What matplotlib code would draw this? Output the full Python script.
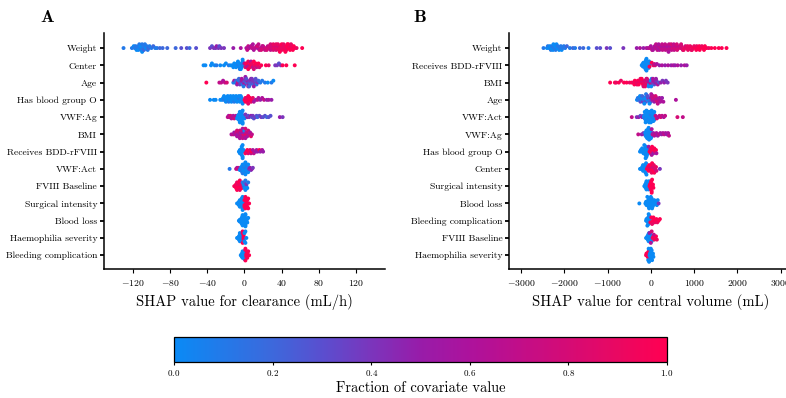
"""
SHAP beeswarm summaries for clearance and central volume.
"""

import numpy as np
import matplotlib

matplotlib.use("Agg")
import matplotlib.pyplot as plt
import matplotlib as mpl
from matplotlib.colors import LinearSegmentedColormap

plt.rcParams["font.family"] = "serif"
plt.rcParams["font.serif"] = ["cmr10"]
plt.rcParams["mathtext.fontset"] = "cm"
plt.rcParams["axes.formatter.use_mathtext"] = True
plt.rcParams["axes.unicode_minus"] = True

# ---------------- panel A: clearance (mL/h), colour value in tenths ----------------
A_FEATURES = ["Weight", "Center", "Age", "Has blood group O", "VWF:Ag", "BMI",
              "Receives BDD-rFVIII", "VWF:Act", "FVIII Baseline", "Surgical intensity",
              "Blood loss", "Haemophilia severity", "Bleeding complication"]

a_weight_x = [-130, -121, -119, -118, -117, -116, -115, -114, -114, -113,
              -112, -112, -111, -110, -110, -109, -108, -108, -107, -106,
              -105, -104, -103, -102, -100, -98, -96, -94, -91, -88,
              -83, -74, -68, -62, -59, -52,
              -37, -35, -33, -31, -30, -28, -27, -25, -22, -12, -4,
              2, 4, 5, 7, 8, 8, 10, 11, 13, 14, 14, 16, 17, 19, 20, 20, 22, 23, 25, 26,
              27, 28, 29, 30, 31, 32, 33, 34, 34, 35, 36, 37, 38, 39, 40, 40, 41, 42, 43, 44,
              45, 45, 46, 47, 48, 49, 50, 51, 52, 54, 56, 62,
              3, 9, 15, 18, 24, 28, 31, 36, 38, 42, 44, 47, 50, 53]
a_weight_c = [1, 1, 0, 1, 1, 0, 1, 1, 0, 1, 1, 0, 1, 1, 0, 1, 1, 2, 1, 0,
              1, 1, 2, 1, 1, 2, 1, 1, 2, 2,
              2, 2, 3, 3, 2, 3,
              4, 3, 4, 4, 5, 4, 3, 4, 4, 5, 6,
              6, 7, 6, 6, 7, 7, 6, 7, 7, 6, 8, 7, 7, 7, 8, 7, 7, 8, 7, 8,
              8, 7, 8, 8, 8, 9, 8, 8, 9, 9, 8, 9, 9, 9, 9, 10, 9, 9, 10, 9,
              10, 9, 10, 10, 9, 10, 10, 9, 10, 10, 9, 10,
              7, 6, 7, 8, 8, 8, 9, 9, 10, 9, 10, 10, 9, 10]

a_center_x = [-44, -42, -36, -35, -32, -30, -26, -22, -20, -17, -15, -13, -11, -10, -8,
              -7, -6, -5, -4, -3, -3, -2, -1, -12, -9, -7, -5, -4, -2,
              0, 1, 2, 2, 3, 4, 4, 5, 6, 6, 7, 8, 8, 9, 10, 10, 11, 12, 13, 14, 15, 16, 18,
              23, 26, 33, 35, 37, 39, 41, 45, 54]
a_center_c = [0, 0, 0, 0, 0, 1, 0, 0, 0, 1, 0, 0, 0, 0, 0,
              1, 0, 0, 0, 1, 0, 0, 1, 0, 0, 0, 1, 0, 0,
              7, 9, 8, 10, 6, 9, 10, 7, 10, 9, 6, 10, 9, 7, 10, 8, 9, 10, 7, 9, 10, 8, 10,
              10, 9, 4, 4, 3, 4, 10, 10, 10]

a_age_x = [-41, -27, -25, -23, -21, -19,
           -12, -11, -10, -9, -8, -7, -6, -5, -4, -3, -2, -1, 0, 0, 1, 2, 3, 4, 5, 6,
           6, 7, 8, 9, 10, 11, 12, 13, 14, 15, 17, 19, 22, 25, 29, 31,
           -6, -3, -1, 1, 2, 4, 5, 8, 10, 12]
a_age_c = [10, 7, 7, 6, 7, 8,
           1, 6, 1, 2, 5, 7, 1, 4, 3, 5, 1, 4, 3, 6, 4, 2, 5, 4, 3, 4,
           2, 5, 3, 4, 2, 4, 3, 1, 4, 2, 1, 1, 1, 0, 1, 0,
           2, 6, 1, 5, 3, 6, 2, 4, 5, 3]

a_bloodo_x = [-37, -33, -31, -26, -24, -23, -22, -21, -20, -19, -18, -17, -16, -15,
              -14, -13, -12, -11, -10, -9, -8, -7, -6, -5, -4, -3, -2,
              -22, -18, -15, -12, -9, -6, -4, -2,
              0, 1, 1, 2, 2, 3, 4, 4, 5, 6, 7, 8, 9,
              10, 12, 14, 15, 17, 19, 21, 24, 26, 29]
a_bloodo_c = [0, 0, 0, 0, 0, 0, 1, 0, 0, 0, 0, 1, 0, 0,
              0, 0, 0, 1, 0, 0, 0, 0, 1, 0, 0, 0, 0,
              0, 0, 0, 0, 0, 0, 0, 0,
              10, 9, 10, 10, 9, 10, 10, 9, 10, 10, 9, 10, 9,
              6, 5, 7, 6, 5, 6, 7, 5, 6, 5]

a_vwfag_x = [-18, -17, -16, -15, -14, -13, -12, -11, -10, -9,
             -8, -7, -7, -6, -6, -6, -5, -5, -5, -5, -4, -4, -4, -4, -3, -3, -3, -3,
             -2, -2, -2, -1, -1, 0,
             1, 3, 4, 5, 7, 8, 9, 10, 12, 13, 14, 16, 18, 20, 22, 24, 26, 28, 38, 41]
a_vwfag_c = [7, 6, 7, 8, 6, 7, 6, 8, 7, 6,
             0, 0, 0, 0, 0, 0, 0, 0, 0, 0, 0, 0, 0, 0, 0, 0, 0, 0,
             0, 0, 0, 0, 0, 0,
             4, 5, 3, 4, 5, 3, 4, 3, 4, 3, 2, 3, 4, 3, 3, 2, 3, 3, 5, 4]

a_bmi_x = [-14, -12, -11, -10, -9, -8, -8, -7, -6, -6, -5, -5, -4, -4, -3, -3,
           -2, -2, -1, -1, 0, 0, 1, 1, 2, 2, 3, 4, 5, 6, 7, 8]
a_bmi_c = [6, 7, 5, 6, 7, 6, 8, 5, 7, 6, 8, 6, 7, 5, 6, 8,
           7, 6, 9, 5, 7, 0, 6, 8, 10, 7, 6, 8, 7, 6, 9, 7]

a_bdd_x = [-6, -5, -5, -4, -4, -4, -3, -3, -3, -2, -2, -2, -1, -1,
           1, 2, 3, 4, 5, 6, 7, 8, 9, 10,
           12, 13, 14, 16, 17, 19, 20]
a_bdd_c = [0, 0, 0, 0, 0, 0, 0, 0, 0, 0, 0, 0, 0, 0,
           10, 9, 10, 8, 10, 9, 7, 10, 6, 7,
           5, 6, 5, 10, 5, 6, 5]

a_vwfact_x = [-16, -9, -8, -7, -6,
              -5, -4, -4, -3, -3, -3, -2, -2, -2, -2, -1, -1, -1, -1, 0,
              0, 0, 0, 1, 1, 1, 1, 2, 2, 2, 3, 3, 3, 4, 4,
              5, 6, 7, 8, 9]
a_vwfact_c = [1, 7, 6, 8, 7,
              0, 0, 1, 0, 0, 1, 0, 0, 0, 1, 0, 0, 0, 1, 0,
              0, 0, 0, 1, 0, 0, 0, 0, 1, 0, 0, 0, 1, 0, 0,
              4, 5, 4, 5, 4]

a_fviii_x = [-11, -10, -9, -9, -8, -8, -7, -7, -6, -6, -5, -5, -4, -4, -3,
             -2, -1, -1, 0, 0, 1, 1, 2, 2, 3, 4]
a_fviii_c = [10, 9, 10, 10, 9, 10, 10, 9, 10, 10, 9, 10, 10, 9, 10,
             1, 3, 0, 0, 2, 0, 1, 0, 4, 0, 1]

a_surg_x = [-8, -7, -6, -6, -5, -5, -4, -4, -4, -3, -3, -3, -2, -2, -2, -1, -1,
            0, 0, 0, 1, 1, 1, 2, 2, 2, 3, 3, 4, 4, 5]
a_surg_c = [0, 0, 0, 0, 0, 0, 0, 0, 0, 0, 0, 0, 0, 0, 0, 0, 0,
            10, 10, 10, 10, 10, 10, 10, 10, 10, 10, 10, 10, 10, 10]

a_loss_x = [-6, -5, -5, -4, -4, -4, -3, -3, -3, -3, -2, -2, -2, -2, -2, -1, -1, -1,
            -1, -1, 0, 0, 0, 0, 0, 1, 1, 1, 1, 2, 2, 2, 3, 3, 4]
a_loss_c = [0] * len(a_loss_x)

a_sev_x = [-8, -7, -6, -6, -5, -5, -5, -4, -4, -4, -3, -3,
           -2, -2, -2, -1, -1, -1, -1, 0, 0, 1, 1, 2]
a_sev_c = [0, 0, 0, 0, 0, 0, 0, 0, 0, 0, 0, 0,
           10, 10, 10, 10, 10, 10, 10, 0, 0, 0, 0, 0]

a_bleed_x = [-4, -3, -3, -2, -2, -2, -1, -1, -1, -1, 0, 0, 0,
             1, 1, 1, 2, 2, 2, 3, 3, 4, 5]
a_bleed_c = [0, 0, 0, 0, 0, 0, 0, 0, 0, 0, 0, 0, 0,
             10, 10, 10, 10, 10, 10, 10, 10, 10, 10]

# ---------------- panel B: central volume (mL) ----------------
B_FEATURES = ["Weight", "Receives BDD-rFVIII", "BMI", "Age", "VWF:Act", "VWF:Ag",
              "Has blood group O", "Center", "Surgical intensity", "Blood loss",
              "Bleeding complication", "FVIII Baseline", "Haemophilia severity"]

b_weight_x = [-2480, -2400, -2380, -2350, -2330, -2310, -2300, -2280, -2260, -2250,
              -2230, -2210, -2200, -2180, -2160, -2150, -2120, -2100, -2080, -2060,
              -2040, -2010, -1980, -1940, -1870, -1800, -1750, -1640, -1560, -1440,
              -1250, -1170, -1020, -940, -635,
              -325, -250, -170, -100, -60, -20, 0, 30, 60, 90,
              110, 130, 150, 170, 190, 200, 230, 250, 270, 300,
              320, 340, 360, 380, 400, 420, 440, 460, 480, 500,
              520, 540, 560, 590, 610, 640, 660, 690, 710, 740,
              770, 800, 820, 850, 880, 910, 940, 970, 1000, 1030,
              1060, 1090, 1120, 1150, 1180, 1210, 1250, 1290, 1340, 1400,
              1480, 1570, 1640, 1750,
              50, 120, 180, 260, 330, 410, 470, 530, 600, 700,
              760, 860, 950, 1050, 1130, 1230]
b_weight_c = [1, 0, 1, 0, 0, 1, 0, 1, 0, 0, 1, 0, 1, 0, 0, 1, 0, 1, 1, 0,
              1, 1, 1, 2, 1, 2, 1, 2, 2, 1,
              3, 3, 4, 3, 4,
              5, 6, 5, 6, 6, 7, 6, 7, 6, 6,
              7, 6, 7, 6, 7, 6, 7, 6, 7, 7,
              6, 7, 7, 6, 7, 7, 7, 6, 7, 8,
              7, 7, 8, 7, 8, 8, 7, 8, 8, 8,
              9, 8, 9, 9, 9, 9, 9, 10, 9, 10,
              9, 10, 10, 10, 9, 10, 10, 10, 9, 10,
              10, 10, 10, 10,
              6, 7, 6, 7, 7, 6, 8, 7, 8, 8,
              9, 9, 9, 10, 10, 10]

b_bdd_x = [-210, -190, -180, -170, -160, -150, -150, -140, -130, -120, -120,
           -110, -100, -100, -90, -80, -70, -60, -50, -40, -30, -20,
           -30, 20, 60, 100, 80,
           140, 200, 260, 330, 400, 470, 520, 560, 620, 700, 780, 830]
b_bdd_c = [0, 0, 0, 0, 0, 0, 0, 0, 0, 0, 0,
           0, 0, 0, 0, 0, 0, 0, 0, 0, 0, 0,
           10, 10, 9, 8, 7,
           6, 5, 6, 5, 6, 5, 6, 5, 6, 5, 6, 5]

b_bmi_x = [-940, -830, -800, -740, -690, -620, -560, -490, -440, -400,
           -370, -330, -300, -270, -250, -220, -200, -180, -160, -140,
           -120, -100, -80, -60, -40, -20, 0, 0, 20, 40,
           60, 80, 100, 130, 160, 190, 230, 270, 310, 350, 390,
           -380, -320, -280, -240, -210, -170, -130, -90, -50, 10, 50, 120]
b_bmi_c = [10, 10, 9, 10, 9, 10, 10, 9, 10, 9,
           10, 9, 10, 8, 10, 9, 8, 10, 9, 8,
           9, 7, 8, 6, 0, 5, 0, 7, 1, 4,
           6, 3, 5, 4, 6, 3, 5, 4, 5, 4, 4,
           10, 9, 10, 9, 10, 8, 9, 8, 0, 0, 6, 5]

b_age_x = [-320, -290, -260, -240, -220, -200, -180, -160, -140, -120,
           -100, -80, -60, -40, -20, 0, 0, 20, 40, 60,
           80, 100, 130, 150, 180, 200, 230, 260, 290, 580,
           -300, -250, -200, -150, -110, -70, -30, 10, 50, 110, 160, 220]
b_age_c = [0, 1, 0, 3, 1, 0, 4, 1, 0, 3,
           1, 0, 4, 2, 1, 5, 3, 7, 6, 8,
           5, 7, 6, 8, 7, 6, 7, 5, 6, 6,
           1, 0, 2, 0, 1, 3, 0, 6, 7, 8, 7, 6]

b_vwfact_x = [-440, -325, -280, -240, -200, -170,
              -160, -150, -140, -130, -120, -110, -100, -90, -80, -70,
              -60, -50, -40, -30, -20, -10, 0, 10, 20, 30, 40, 50, 60, 70, 80, 100,
              -140, -120, -100, -80, -60, -40, -20, 0, 20, 40, 60, 80,
              110, 140, 170, 200, 230, 260, 300, 330, 615, 740]
b_vwfact_c = [7, 4, 5, 3, 5, 4,
              0, 0, 1, 0, 0, 0, 1, 0, 0, 0,
              0, 1, 0, 0, 0, 0, 1, 0, 0, 0, 1, 0, 0, 0, 1, 0,
              0, 0, 0, 0, 0, 0, 0, 0, 0, 0, 0, 0,
              7, 8, 6, 7, 8, 7, 6, 7, 8, 7]

b_vwfag_x = [-290, -210, -170, -140,
             -130, -120, -110, -100, -90, -80, -70, -60, -50, -40, -30, -20, -10, 0, 10,
             -100, -80, -60, -40, -20, 0, -50,
             20, 40, 60, 80, 100, 130, 160, 190, 220, 250, 280, 310, 340, 370, 400, 420]
b_vwfag_c = [7, 5, 4, 5,
             0, 0, 0, 0, 0, 0, 0, 0, 0, 0, 0, 0, 0, 0, 0,
             0, 0, 0, 0, 0, 0, 0,
             6, 7, 5, 6, 7, 6, 5, 7, 6, 5, 6, 7, 6, 5, 6, 7]

b_bloodo_x = [-250, -230, -210, -190, -170, -160, -150, -140, -130, -120,
              -110, -100, -90, -80, -70, -60, -200, -150, -120, -90,
              -50, -30, -10, 0, 10, 20, 30, 40, 50, 60, 80, 100, 120, 130]
b_bloodo_c = [0, 0, 0, 0, 0, 0, 0, 0, 0, 0,
              0, 0, 0, 0, 0, 0, 0, 0, 0, 0,
              5, 10, 9, 10, 10, 6, 10, 9, 10, 5, 10, 9, 10, 6]

b_center_x = [-250, -220, -200, -180, -160, -150, -140, -130, -120, -110, -100, -180,
              -90, -70, -50, -30, -10, 0, 10, 20, 30, 40, 50, 60, 70, 80, 100, 120, 130, -40,
              210]
b_center_c = [0, 0, 0, 0, 0, 0, 0, 0, 0, 0, 0, 0,
              10, 9, 10, 10, 8, 10, 10, 9, 10, 10, 8, 10, 9, 10, 8, 9, 8, 10,
              4]

b_surg_x = [-150, -130, -120, -110, -100, -90, -80, -70, -60, -50, -40, -100,
            -30, -20, -10, 0, 0, 10, 20, 30, 40, 50, 60, 20]
b_surg_c = [0, 0, 0, 0, 0, 0, 0, 0, 0, 0, 0, 0,
            10, 10, 10, 10, 10, 10, 10, 10, 10, 10, 10, 10]

b_loss_x = [-265, -125, -110, -100, -90, -80, -70, -60, -50, -40,
            -30, -20, -10, 0, 10, 20, 30, 40, 50, 60,
            80, 100, 120, 140, 160, 0, -40, 40, -80, 180]
b_loss_c = [0, 0, 0, 0, 0, 0, 0, 0, 0, 0,
            0, 0, 0, 0, 0, 0, 0, 0, 0, 0,
            0, 0, 0, 0, 0, 0, 0, 0, 0, 4]

b_bleed_x = [-110, -100, -90, -80, -70, -60, -50, -40, -30, -20, -80, -50,
             -10, 10, 30, 50, 70, 90, 110, 130, 150, 180, 210, 60]
b_bleed_c = [0, 0, 0, 0, 0, 0, 0, 0, 0, 0, 0, 0,
             10, 10, 9, 10, 10, 9, 10, 10, 9, 10, 10, 10]

b_fviii_x = [-110, -90, -80, -70, -60, -50, -40, -30, -20, -10, 0, 20,
             -30, 0, 20, 40, 60, 80, 100, 120, 140, 70]
b_fviii_c = [0, 0, 0, 0, 0, 0, 0, 0, 0, 0, 0, 0,
             5, 6, 8, 9, 10, 9, 10, 10, 9, 7]

b_sev_x = [-110, -100, -90, -80, -70, -60, -50, -40,
           -60, -50, -40, -30, -20, -10, 0, 10, 20, 30, 40, 50, 60, 0]
b_sev_c = [10, 10, 10, 10, 10, 10, 10, 10,
           0, 0, 0, 0, 0, 0, 0, 0, 0, 0, 0, 0, 0, 0]

A_DATA = [(a_weight_x, a_weight_c), (a_center_x, a_center_c), (a_age_x, a_age_c),
          (a_bloodo_x, a_bloodo_c), (a_vwfag_x, a_vwfag_c), (a_bmi_x, a_bmi_c),
          (a_bdd_x, a_bdd_c), (a_vwfact_x, a_vwfact_c), (a_fviii_x, a_fviii_c),
          (a_surg_x, a_surg_c), (a_loss_x, a_loss_c), (a_sev_x, a_sev_c),
          (a_bleed_x, a_bleed_c)]
B_DATA = [(b_weight_x, b_weight_c), (b_bdd_x, b_bdd_c), (b_bmi_x, b_bmi_c),
          (b_age_x, b_age_c), (b_vwfact_x, b_vwfact_c), (b_vwfag_x, b_vwfag_c),
          (b_bloodo_x, b_bloodo_c), (b_center_x, b_center_c), (b_surg_x, b_surg_c),
          (b_loss_x, b_loss_c), (b_bleed_x, b_bleed_c), (b_fviii_x, b_fviii_c),
          (b_sev_x, b_sev_c)]

# shap-like red/blue colormap
CMAP = LinearSegmentedColormap.from_list(
    "red_blue",
    [(0.0, "#0a8af5"), (0.2, "#3d68dc"), (0.3, "#5a4fcf"), (0.4, "#7b35bc"),
     (0.5, "#981ca9"), (0.6, "#ad129c"), (0.7, "#c10e89"), (0.8, "#d50b75"),
     (0.9, "#e90862"), (1.0, "#ff0052")],
)


def swarm(vals, binw, step=0.11, cap=0.38):
    """Stack points falling in the same bin, alternating up and down."""
    vals = np.asarray(vals, float)
    q = np.round(vals / binw)
    order = np.argsort(q, kind="stable")
    ys = np.zeros(len(vals))
    layer, last = 0, None
    for i in order:
        if q[i] != last:
            layer = 0
        ys[i] = np.ceil(layer / 2) * ((layer % 2) * 2 - 1)
        layer += 1
        last = q[i]
    ys *= step
    m = np.abs(ys).max()
    if m > cap:
        ys *= cap / m
    return ys


def draw_panel(ax, features, data, binw, xlim, ticks, xlabel):
    n = len(features)
    for i, (xs, cs) in enumerate(data):
        m = min(len(xs), len(cs))
        xs = np.asarray(xs[:m], float)
        cs = np.asarray(cs[:m], float) / 10
        ys = swarm(xs, binw)
        ax.scatter(xs, n - 1 - i + ys, c=CMAP(cs), s=8, linewidths=0, zorder=3)

    ax.set_yticks(range(n))
    ax.set_yticklabels(features[::-1], fontsize=6.9)
    ax.set_ylim(-0.8, n - 1 + 0.87)
    ax.set_xlim(*xlim)
    ax.set_xticks(ticks)
    ax.tick_params(axis="x", labelsize=7, length=3, width=0.8)
    ax.tick_params(axis="y", length=3, width=1.3, pad=2)
    ax.set_xlabel(xlabel, fontsize=10.5, labelpad=4)
    for side in ["top", "right"]:
        ax.spines[side].set_visible(False)
    for side in ["left", "bottom"]:
        ax.spines[side].set_linewidth(1.1)


fig = plt.figure(figsize=(7.86, 3.98), dpi=100)

ax_a = fig.add_axes([0.1323, 0.324, 0.3575, 0.593])
draw_panel(ax_a, A_FEATURES, A_DATA, 3, (-151, 151), [-120, -80, -40, 0, 40, 80, 120],
           "SHAP value for clearance (mL/h)")

ax_b = fig.add_axes([0.648, 0.324, 0.360, 0.593])
draw_panel(ax_b, B_FEATURES, B_DATA, 65, (-3270, 3270),
           [-3000, -2000, -1000, 0, 1000, 2000, 3000],
           "SHAP value for central volume (mL)")

fig.text(0.061, 0.958, r"$\mathbf{A}$", fontsize=13, ha="center", va="center")
fig.text(0.534, 0.958, r"$\mathbf{B}$", fontsize=13, ha="center", va="center")

cax = fig.add_axes([0.2214, 0.0905, 0.627, 0.0628])
cb = mpl.colorbar.ColorbarBase(cax, cmap=CMAP, orientation="horizontal",
                               norm=mpl.colors.Normalize(0, 1))
cb.set_ticks([0.0, 0.2, 0.4, 0.6, 0.8, 1.0])
cb.ax.tick_params(labelsize=6.5, length=2.5, width=0.8, pad=2)
cb.outline.set_linewidth(0.9)
cb.set_label("Fraction of covariate value", fontsize=10.4, labelpad=2)

fig.savefig("out.png", dpi=100)
